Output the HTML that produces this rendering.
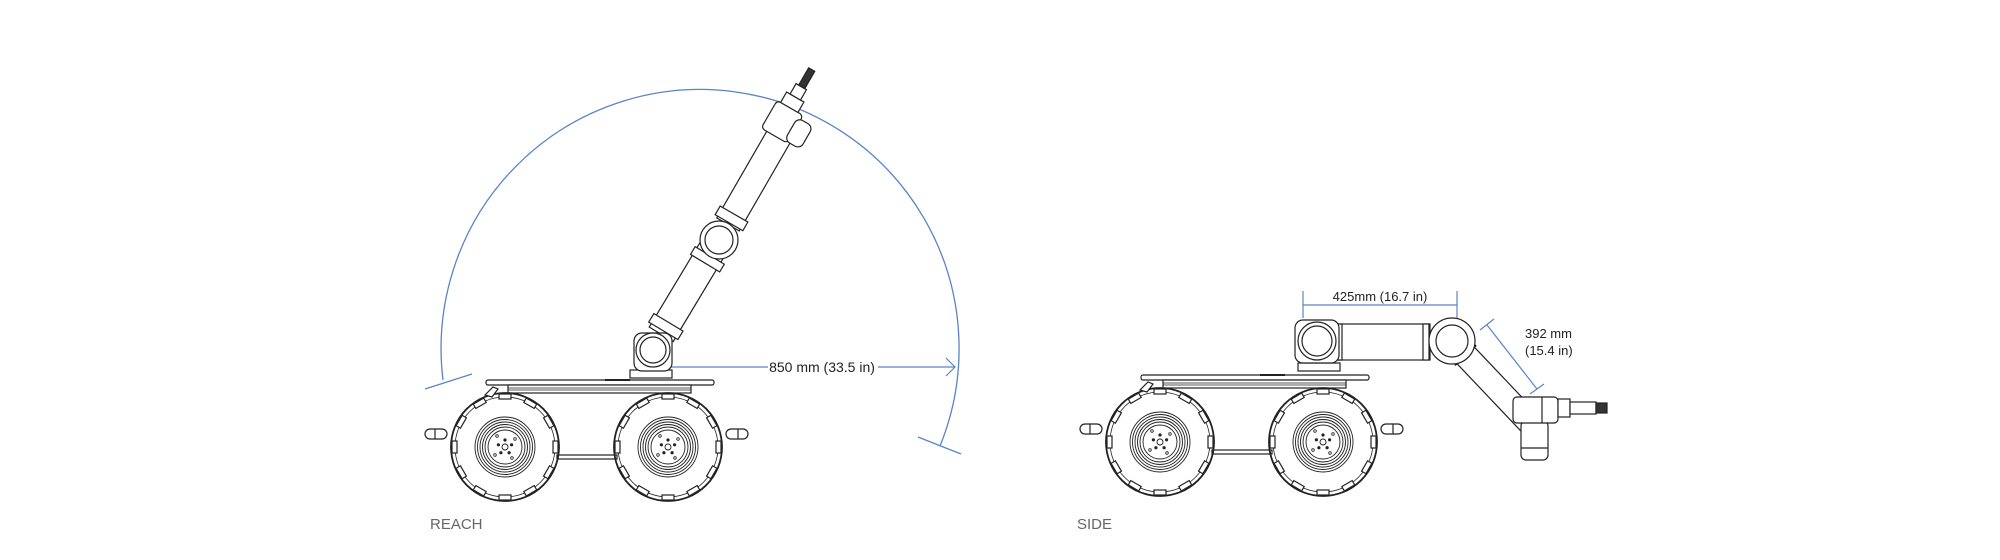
<!DOCTYPE html>
<html><head><meta charset="utf-8"><style>
html,body{margin:0;padding:0;background:#fff;}
svg{display:block;}
text{font-family:"Liberation Sans",sans-serif;}
</style></head><body>
<svg width="2000" height="560" viewBox="0 0 2000 560" xmlns="http://www.w3.org/2000/svg">
<defs>
<g id="wheel" fill="none" stroke="#222">
  <circle r="54" stroke-width="1.8"/>
  <circle r="50" stroke-width="0.8"/>
  <g stroke-width="1.2" fill="#fff">
    <rect x="-6" y="-53" width="12" height="5" transform="rotate(0)"/>
    <rect x="-6" y="-53" width="12" height="5" transform="rotate(30)"/>
    <rect x="-6" y="-53" width="12" height="5" transform="rotate(60)"/>
    <rect x="-6" y="-53" width="12" height="5" transform="rotate(90)"/>
    <rect x="-6" y="-53" width="12" height="5" transform="rotate(120)"/>
    <rect x="-6" y="-53" width="12" height="5" transform="rotate(150)"/>
    <rect x="-6" y="-53" width="12" height="5" transform="rotate(180)"/>
    <rect x="-6" y="-53" width="12" height="5" transform="rotate(210)"/>
    <rect x="-6" y="-53" width="12" height="5" transform="rotate(240)"/>
    <rect x="-6" y="-53" width="12" height="5" transform="rotate(270)"/>
    <rect x="-6" y="-53" width="12" height="5" transform="rotate(300)"/>
    <rect x="-6" y="-53" width="12" height="5" transform="rotate(330)"/>
  </g>
  <circle r="30" stroke-width="0.9"/>
  <circle r="27.5" stroke-width="0.9"/>
  <circle r="25" stroke-width="0.9"/>
  <circle r="22.5" stroke-width="0.9"/>
  <circle r="20" stroke-width="0.9"/>
  <circle r="17" stroke-width="0.9"/>
  <circle r="3" stroke-width="0.9"/>
  <g fill="#222" stroke="none">
    <circle cx="0" cy="-7" r="1.6"/><circle cx="6.6" cy="-2.2" r="1.6"/><circle cx="4.1" cy="5.7" r="1.6"/>
    <circle cx="-4.1" cy="5.7" r="1.6"/><circle cx="-6.6" cy="-2.2" r="1.6"/>
  </g>
  <g stroke-width="0.8"><circle cx="10" cy="-8" r="1.3"/><circle cx="-10" cy="8" r="1.3"/><circle cx="7" cy="11" r="1.3"/><circle cx="-8" cy="-11" r="1.3"/></g>
</g>
<g id="rover" fill="none" stroke="#222" stroke-width="1.2">
  <rect x="-19" y="-67" width="228" height="5" rx="2" fill="#fff"/>
  <line x1="100" y1="-67" x2="125" y2="-67" stroke-width="2"/>
  <rect x="3" y="-62" width="183" height="8" fill="#fff"/>
  <line x1="3" y1="-59" x2="186" y2="-59" stroke-width="0.7"/>
  <line x1="3" y1="-57" x2="186" y2="-57" stroke-width="0.7"/>
  <rect x="-80" y="-18" width="22" height="10" rx="5" fill="#fff"/>
  <line x1="-70" y1="-18" x2="-70" y2="-8"/>
  <rect x="221" y="-18" width="22" height="10" rx="5" fill="#fff"/>
  <line x1="233" y1="-18" x2="233" y2="-8"/>
  <rect x="52" y="8" width="60" height="4" fill="#fff"/>
  <use href="#wheel" x="0" y="0"/>
  <use href="#wheel" x="163" y="0"/>
  <path d="M-20,-52 l8,-8 l5,2 l-6,8z" fill="#fff"/>
</g>
</defs>

<!-- REACH -->
<use href="#rover" x="505" y="447"/>
<path d="M443,380 A259,259 0 1 1 940,446" fill="none" stroke="#5b84c4" stroke-width="1.3"/>
<line x1="425" y1="389" x2="472" y2="374" stroke="#5b84c4" stroke-width="1.3"/>
<line x1="918" y1="437" x2="961" y2="454" stroke="#5b84c4" stroke-width="1.3"/>
<line x1="662" y1="367" x2="955" y2="367" stroke="#5b84c4" stroke-width="1.2"/>
<polyline points="946,358 955,367 946,376" fill="none" stroke="#5b84c4" stroke-width="1.2"/>
<rect x="768" y="357" width="110" height="18" fill="#fff"/>
<text x="822" y="372" font-size="14" text-anchor="middle" fill="#222">850 mm (33.5 in)</text>
<g fill="#fff" stroke="#222" stroke-width="1.2">
  <g transform="translate(653,348) rotate(31)">
    <rect x="-14" y="-118" width="28" height="102"/>
    <rect x="-17" y="-30" width="34" height="10"/>
  </g>
  <rect x="630" y="370" width="42" height="8"/>
  <rect x="634" y="333" width="38" height="38" rx="8"/>
  <circle cx="653" cy="350" r="17"/>
  <circle cx="653" cy="350" r="13"/>
  <g transform="translate(719,240) rotate(30)">
    <rect x="-13" y="-124" width="26" height="106"/>
    <rect x="-16" y="-30" width="32" height="10"/>
  </g>
  <g transform="translate(719,240) rotate(31)">
    <rect x="-17" y="18" width="34" height="9"/>
  </g>
  <circle cx="719" cy="240" r="19"/>
  <circle cx="719" cy="240" r="14"/>
  <g transform="translate(782,124) rotate(30)">
    <rect x="-16" y="-18" width="30" height="32" rx="4"/>
    <rect x="-12" y="-30" width="20" height="12"/>
    <rect x="-8" y="-42" width="12" height="12"/>
    <rect x="-5" y="-62" width="7" height="20" fill="#333"/>
  </g>
  <g transform="translate(795,130) rotate(30)">
    <rect x="-4" y="-12" width="18" height="26" rx="6"/>
  </g>
</g>
<text x="430" y="529" font-size="15" fill="#666">REACH</text>

<!-- SIDE -->
<use href="#rover" x="1160" y="442"/>
<g fill="#fff" stroke="#222" stroke-width="1.2">
  <g transform="translate(1452,341) rotate(-43.5)">
    <rect x="-12" y="0" width="24" height="112"/>
    <rect x="-14" y="12" width="28" height="8"/>
  </g>
  <rect x="1334" y="324" width="96" height="36"/>
  <rect x="1336" y="324" width="6" height="36"/>
  <rect x="1423" y="324" width="6" height="36"/>
  <rect x="1298" y="363" width="42" height="8"/>
  <rect x="1295" y="320" width="44" height="43" rx="8"/>
  <circle cx="1317" cy="341" r="19"/>
  <circle cx="1317" cy="341" r="15"/>
  <circle cx="1452" cy="341" r="23"/>
  <circle cx="1452" cy="341" r="16"/>
  <rect x="1521" y="421" width="27" height="39" rx="5"/>
  <line x1="1521" y1="448" x2="1548" y2="448"/>
  <rect x="1513" y="397" width="45" height="26" rx="4"/>
  <line x1="1542" y1="397" x2="1542" y2="423"/>
  <rect x="1558" y="399" width="12" height="18"/>
  <rect x="1570" y="402" width="26" height="12"/>
  <rect x="1596" y="403" width="11" height="10" fill="#333"/>
</g>
<g stroke="#5b84c4" stroke-width="1.2" fill="none">
  <line x1="1303" y1="305" x2="1457" y2="305"/>
  <line x1="1303" y1="291" x2="1303" y2="318"/>
  <line x1="1457" y1="291" x2="1457" y2="318"/>
  <line x1="1487" y1="325" x2="1537" y2="389"/>
  <line x1="1480" y1="330" x2="1494" y2="319"/>
  <line x1="1530" y1="394" x2="1544" y2="384"/>
</g>
<text x="1380" y="301" font-size="13" text-anchor="middle" fill="#222">425mm (16.7 in)</text>
<text x="1525" y="338" font-size="13" fill="#222">392 mm</text>
<text x="1525" y="355" font-size="13" fill="#222">(15.4 in)</text>
<text x="1077" y="529" font-size="15" fill="#666">SIDE</text>
</svg>
</body></html>
